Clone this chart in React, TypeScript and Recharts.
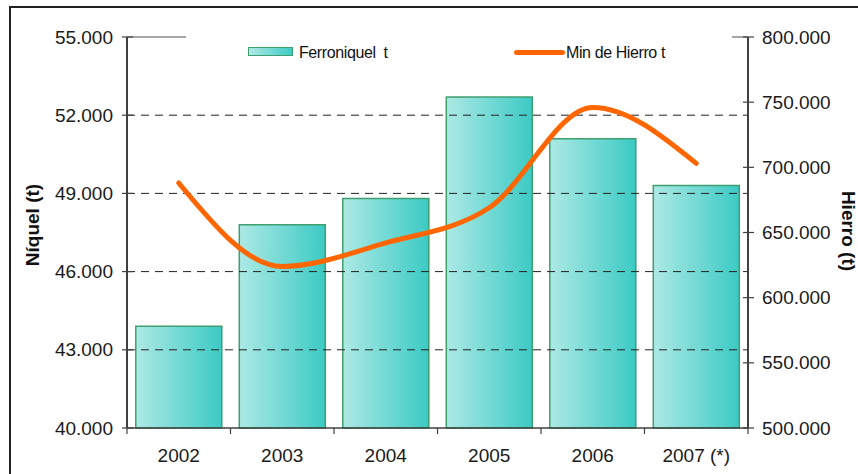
import React from "react";
import {
  ComposedChart,
  Bar,
  Line,
  XAxis,
  YAxis,
  ReferenceLine,
  Legend,
} from "recharts";

const years = ["2002", "2003", "2004", "2005", "2006", "2007 (*)"];
const ferroniquel = [43900, 47800, 48800, 52700, 51100, 49300];
const minHierro = [688000, 624000, 642000, 669000, 746000, 703000];

const leftTicks = [40000, 43000, 46000, 49000, 52000, 55000];
const rightTicks = [500000, 550000, 600000, 650000, 700000, 750000, 800000];
const gridValues = [43000, 46000, 49000, 52000];

const data = years.map((year, i) => ({
  year,
  ferro: ferroniquel[i],
  hierro: minHierro[i],
}));

const FONT = "'Liberation Sans', Arial, sans-serif";
const AXIS = "#404040";
const HALF_BAND = 51.75;

const fmt = (v: number) => `${Math.round(v / 1000)}.000`;

function LeftTick(props: any) {
  const { x, y, payload } = props;
  return (
    <g>
      <line x1={x - 5} x2={x + 6} y1={y} y2={y} stroke={AXIS} strokeWidth={1.2} />
      <text x={x - 14} y={y} dy="0.35em" textAnchor="end" fontSize={19} fill="#1a1a1a" fontFamily={FONT}>
        {fmt(payload.value)}
      </text>
    </g>
  );
}

function RightTick(props: any) {
  const { x, y, payload } = props;
  return (
    <g>
      <line x1={x - 5} x2={x + 6} y1={y} y2={y} stroke={AXIS} strokeWidth={1.2} />
      <text x={x + 14} y={y} dy="0.35em" textAnchor="start" fontSize={19} fill="#1a1a1a" fontFamily={FONT}>
        {fmt(payload.value)}
      </text>
    </g>
  );
}

function BottomTick(props: any) {
  const { x, y, payload, index } = props;
  return (
    <g>
      <line x1={x - HALF_BAND} x2={x - HALF_BAND} y1={y} y2={y + 6} stroke={AXIS} strokeWidth={1.2} />
      {index === years.length - 1 && (
        <line x1={x + HALF_BAND} x2={x + HALF_BAND} y1={y} y2={y + 6} stroke={AXIS} strokeWidth={1.2} />
      )}
      <text x={x} y={y + 27} dy="0.35em" textAnchor="middle" fontSize={19} fill="#1a1a1a" fontFamily={FONT}>
        {payload.value}
      </text>
    </g>
  );
}

function LegendBox() {
  const text: React.CSSProperties = {
    position: "absolute",
    top: 16,
    fontFamily: FONT,
    fontSize: 16,
    lineHeight: "18px",
    color: "#111",
    letterSpacing: "-0.4px",
    whiteSpace: "pre",
  };
  return (
    <div style={{ position: "relative", width: 546, height: 40 }}>
      <div
        style={{
          position: "absolute",
          left: 62,
          top: 19,
          width: 43,
          height: 7,
          border: "1.5px solid #3f9f70",
          background: "linear-gradient(to right, #aee9e5, #3ecbc5)",
        }}
      />
      <span style={{ ...text, left: 113 }}>Ferroniquel  t</span>
      <div
        style={{
          position: "absolute",
          left: 328,
          top: 22,
          width: 51,
          height: 5,
          borderRadius: 3,
          background: "#ff6600",
        }}
      />
      <span style={{ ...text, left: 380 }}>Min de Hierro t</span>
    </div>
  );
}

export default function App() {
  return (
    <div
      style={{
        position: "fixed",
        left: 0,
        top: 0,
        width: 858,
        height: 474,
        background: "#fff",
        overflow: "hidden",
      }}
    >
      <div
        style={{
          position: "absolute",
          left: 9,
          top: 6,
          width: 900,
          height: 500,
          borderLeft: "2px solid #222",
          borderTop: "2px solid #222",
        }}
      />
      <ComposedChart
        width={858}
        height={474}
        data={data}
        margin={{ top: 37, right: 0, bottom: 0, left: 0 }}
        barCategoryGap="8.5%"
        style={{ position: "absolute", left: 0, top: 0 }}
      >
        <defs>
          <linearGradient id="ferroGrad" x1="0" y1="0" x2="1" y2="0">
            <stop offset="0%" stopColor="#ade9e5" />
            <stop offset="100%" stopColor="#3ccac4" />
          </linearGradient>
        </defs>
        <XAxis
          dataKey="year"
          height={46}
          axisLine={{ stroke: AXIS, strokeWidth: 1.5 }}
          tickLine={false}
          tickSize={0}
          tickMargin={0}
          tick={<BottomTick />}
          interval={0}
        />
        <YAxis
          yAxisId="left"
          orientation="left"
          width={127}
          domain={[40000, 55000]}
          ticks={leftTicks}
          axisLine={{ stroke: AXIS, strokeWidth: 2 }}
          tickLine={false}
          tickSize={0}
          tickMargin={0}
          tick={<LeftTick />}
          interval={0}
          label={{
            content: (p: any) => {
              const cx = 32;
              const cy = 225;
              return (
                <text
                  x={cx}
                  y={cy}
                  transform={`rotate(-90 ${cx} ${cy})`}
                  textAnchor="middle"
                  dy="0.35em"
                  fontSize={19}
                  fontWeight="bold"
                  fill="#111"
                  fontFamily={FONT}
                >
                  Níquel (t)
                </text>
              );
            },
          }}
        />
        <YAxis
          yAxisId="right"
          orientation="right"
          width={110}
          domain={[500000, 800000]}
          ticks={rightTicks}
          axisLine={{ stroke: AXIS, strokeWidth: 2 }}
          tickLine={false}
          tickSize={0}
          tickMargin={0}
          tick={<RightTick />}
          interval={0}
          label={{
            content: (p: any) => {
              const cx = 849;
              const cy = 231;
              return (
                <text
                  x={cx}
                  y={cy}
                  transform={`rotate(90 ${cx} ${cy})`}
                  textAnchor="middle"
                  dy="0.35em"
                  fontSize={19}
                  fontWeight="bold"
                  fill="#111"
                  fontFamily={FONT}
                >
                  Hierro (t)
                </text>
              );
            },
          }}
        />
        <ReferenceLine yAxisId="left" y={55000} stroke="#8a8a8a" strokeWidth={1.5} />
        {gridValues.map((v) => (
          <ReferenceLine
            key={v}
            yAxisId="left"
            y={v}
            stroke="#222"
            strokeWidth={1}
            strokeDasharray="8 6"
          />
        ))}
        <Bar
          yAxisId="left"
          dataKey="ferro"
          name="Ferroniquel  t"
          fill="url(#ferroGrad)"
          stroke="#3f9f70"
          strokeWidth={1.5}
          isAnimationActive={false}
        />
        <Line
          yAxisId="right"
          dataKey="hierro"
          name="Min de Hierro t"
          type="monotone"
          stroke="#ff6600"
          strokeWidth={5}
          strokeLinecap="round"
          dot={false}
          activeDot={false}
          isAnimationActive={false}
        />
        <Legend
          layout="horizontal"
          verticalAlign="middle"
          align="center"
          content={<LegendBox />}
          wrapperStyle={{
            position: "absolute",
            left: 186,
            top: 28,
            width: 546,
            height: 40,
            background: "#fff",
          }}
        />
      </ComposedChart>
    </div>
  );
}
